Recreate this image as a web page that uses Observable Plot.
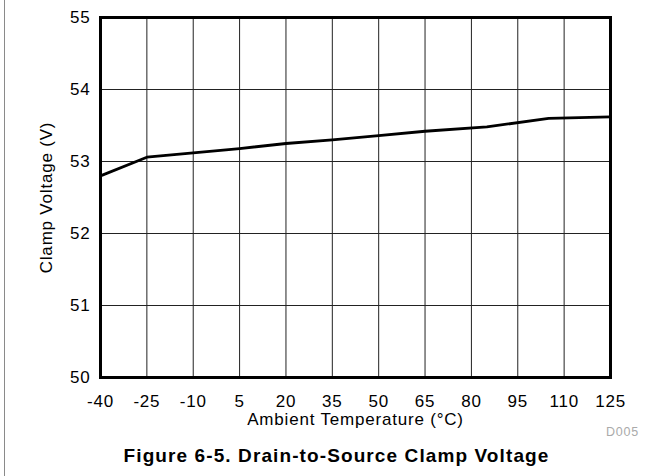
<!DOCTYPE html>
<html>
<head>
<meta charset="utf-8">
<script src="https://cdn.jsdelivr.net/npm/d3@7"></script>
<script src="https://cdn.jsdelivr.net/npm/@observablehq/plot@0.6"></script>
<style>
  html, body { margin: 0; padding: 0; background: white; }
  #wrap { position: relative; width: 665px; height: 476px; }
  #edge { position: absolute; left: 4px; top: 0; width: 1px; height: 476px; background: #8a8a8a; }
</style>
</head>
<body>
<div id="wrap"><div id="edge"></div></div>
<script>
const temps = [-40, -25, -10, 5, 20, 35, 50, 65, 85, 105, 125];
const volts = [52.80, 53.06, 53.12, 53.18, 53.25, 53.30, 53.36, 53.42, 53.48, 53.60, 53.62];
const xTicks = [-40, -25, -10, 5, 20, 35, 50, 65, 80, 95, 110, 125];
const yTicks = [50, 51, 52, 53, 54, 55];
const xLabel = "Ambient Temperature (°C)";
const yLabel = "Clamp Voltage (V)";
const title = "Figure 6-5. Drain-to-Source Clamp Voltage";
const code = "D005";

const data = temps.map((t, i) => ({t, v: volts[i]}));

const chart = Plot.plot({
  width: 665,
  height: 476,
  marginTop: 17,
  marginBottom: 99,
  marginLeft: 100,
  marginRight: 55,
  style: {fontFamily: "'Liberation Sans', Arial, sans-serif", fontSize: "17px", background: "transparent", color: "black", letterSpacing: "0.8px"},
  x: {domain: [-40, 125], ticks: xTicks},
  y: {domain: [50, 55], ticks: yTicks},
  marks: [
    Plot.gridX(xTicks, {stroke: "#222", strokeOpacity: 1, strokeWidth: 1}),
    Plot.gridY(yTicks, {stroke: "#222", strokeOpacity: 1, strokeWidth: 1}),
    Plot.axisX(xTicks, {tickSize: 0, tickPadding: 17, fontSize: 17, label: null, tickFormat: d => String(d)}),
    Plot.axisY(yTicks, {tickSize: 0, tickPadding: 10, fontSize: 17, label: null, tickFormat: d => String(d)}),
    Plot.text([xLabel], {frameAnchor: "bottom", dy: 42, lineAnchor: "middle", fontSize: 17}),
    Plot.text([yLabel], {frameAnchor: "left", rotate: -90, dx: -54, textAnchor: "middle", lineAnchor: "middle", fontSize: 17}),
    Plot.text([code], {frameAnchor: "bottom-right", dx: 12, dy: 54.5, textAnchor: "middle", lineAnchor: "middle", fontSize: 12.5, fill: "#aaa"}),
    Plot.text([title], {frameAnchor: "bottom", dx: -19, dy: 78, lineAnchor: "middle", fontSize: 19, fontWeight: "bold"}),
    Plot.line(data, {x: "t", y: "v", stroke: "black", strokeWidth: 2.8}),
    Plot.frame({stroke: "black", strokeWidth: 3})
  ]
});
chart.style.position = "absolute";
chart.style.left = "0";
chart.style.top = "0";
d3.select(chart).selectAll("text").filter(function() { return this.textContent === title; }).attr("letter-spacing", "1.1px");
document.getElementById("wrap").appendChild(chart);
</script>
</body>
</html>
